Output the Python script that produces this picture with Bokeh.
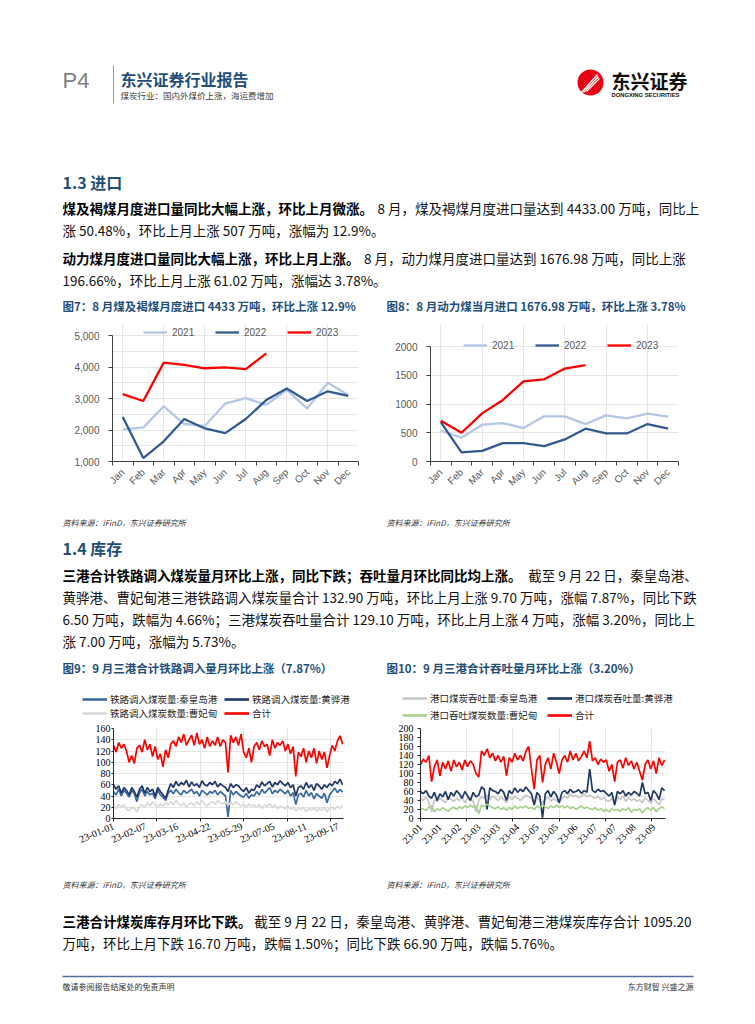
import math
import numpy as np
import pandas as pd
from bokeh.plotting import figure
from bokeh.models import (Range1d, FixedTicker, LinearAxis, Legend, LegendItem,
                          NumeralTickFormatter)
from bokeh.layouts import column, row
from bokeh.embed import file_html
from bokeh.resources import INLINE
from bokeh.core.properties import value

CJK = "Noto Sans CJK SC"

# ---------------- data ----------------
MONTHS = ["Jan", "Feb", "Mar", "Apr", "May", "Jun", "Jul", "Aug", "Sep", "Oct", "Nov", "Dec"]
IMP_2021 = [2010, 2080, 2750, 2190, 2130, 2840, 3010, 2800, 3270, 2680, 3500, 3110]
IMP_2022 = [2410, 1110, 1640, 2350, 2050, 1900, 2350, 2950, 3320, 2920, 3230, 3080]
IMP_2023 = [3140, 2920, 4140, 4070, 3960, 3990, 3930, 4433]
TH_2021 = [535, 413, 640, 669, 581, 785, 785, 651, 802, 750, 831, 779]
TH_2022 = [686, 157, 186, 320, 320, 267, 384, 570, 488, 488, 651, 570]
TH_2023 = [709, 500, 837, 1070, 1395, 1430, 1616, 1676.98]

START = "2023-01-01"
STEP_DAYS = 3  # one reading every 3 days, 2023-01-01 .. 2023-09-22

RAIL_QHD = [48, 42, 52, 40, 50, 45, 38, 50, 44, 30, 46, 52, 40, 48, 42, 45, 35, 50, 42, 38, 32, 45,
            50, 44, 52, 46, 42, 50, 45, 48, 52, 44, 48, 40, 50, 46, 42, 48, 45, 50, 42, 48, 44, 40, 3,
            50, 42, 48, 44, 40, 38, 45, 36, 42, 40, 48, 42, 52, 45, 50, 55, 44, 50, 46, 52, 48,
            44, 50, 40, 46, 25, 42, 45, 38, 50, 40, 46, 35, 44, 40, 36, 45, 28, 42, 48, 54, 46, 52, 47]
RAIL_HH = [60, 52, 58, 45, 55, 50, 42, 55, 48, 38, 52, 58, 45, 55, 48, 52, 40, 55, 48, 42, 36, 50,
           62, 55, 66, 58, 64, 60, 68, 56, 65, 58, 62, 55, 67, 60, 58, 64, 60, 66, 56, 62, 58, 55, 48,
           62, 55, 60, 58, 52, 48, 55, 45, 52, 50, 60, 55, 65, 58, 62, 66, 56, 64, 60, 67, 62,
           58, 64, 55, 60, 40, 55, 58, 52, 64, 55, 60, 50, 62, 58, 52, 60, 55, 62, 58, 66, 62, 70, 60]
RAIL_CFD = [22, 18, 25, 20, 24, 16, 14, 20, 18, 12, 22, 25, 20, 28, 22, 30, 24, 20, 26, 22, 28, 24,
            30, 24, 32, 26, 22, 28, 20, 25, 28, 22, 30, 25, 32, 26, 22, 28, 30, 25, 32, 28, 26, 30, 24,
            28, 24, 30, 26, 22, 25, 20, 26, 22, 24, 20, 25, 18, 24, 22, 26, 20, 24, 18, 22, 20,
            18, 22, 16, 20, 14, 18, 16, 20, 12, 18, 15, 20, 13, 18, 14, 20, 12, 18, 20, 16, 22, 18, 24]
RAIL_SUM = [130, 118, 135, 125, 132, 120, 100, 112, 98, 125, 130, 118, 140, 122, 132, 110, 128, 105,
            115, 92, 122, 108, 132, 138, 128, 145, 135, 150, 130, 140, 148, 130, 152, 132, 140, 125,
            145, 128, 138, 130, 145, 128, 140, 135, 82, 148, 135, 145, 130, 150, 118, 108, 125, 100,
            128, 135, 122, 138, 128, 132, 112, 140, 125, 135, 130, 138, 120, 132, 115, 128, 75, 118,
            110, 125, 100, 120, 108, 125, 98, 120, 105, 118, 90, 112, 130, 120, 138, 147, 132]

PORT_QHD = [45, 40, 48, 35, 15, 42, 38, 45, 40, 35, 48, 42, 38, 45, 40, 48, 35, 45, 42, 38, 15, 40,
            48, 45, 52, 42, 50, 45, 40, 48, 42, 35, 48, 42, 50, 45, 40, 46, 52, 48, 45, 32, 48, 40, 35,
            42, 48, 38, 45, 40, 35, 45, 50, 45, 55, 48, 52, 46, 50, 55, 48, 52, 48, 45, 50, 42, 46,
            40, 38, 45, 32, 48, 42, 50, 38, 46, 40, 44, 38, 42, 35, 46, 40, 35, 45, 38, 30, 44, 42]
PORT_HH = [60, 55, 62, 50, 45, 58, 40, 55, 48, 60, 42, 58, 50, 62, 55, 45, 60, 50, 40, 58, 48, 52,
           70, 65, 20, 68, 62, 60, 55, 65, 58, 40, 62, 55, 68, 58, 65, 60, 70, 62, 55, 30, 58, 50, 2,
           55, 62, 48, 60, 52, 35, 58, 62, 55, 65, 58, 60, 64, 56, 62, 58, 110, 62, 58, 65, 60, 62,
           56, 50, 58, 30, 60, 55, 62, 50, 58, 52, 60, 56, 50, 80, 55, 58, 40, 62, 55, 42, 68, 62]
PORT_CFD = [20, 22, 18, 25, 28, 15, 22, 18, 24, 20, 16, 22, 25, 20, 26, 22, 28, 24, 30, 25, 28, 10,
            30, 26, 32, 28, 24, 22, 26, 20, 24, 18, 25, 20, 28, 22, 26, 24, 28, 22, 25, 20, 28, 24, 30,
            26, 22, 28, 24, 30, 25, 28, 24, 28, 22, 26, 20, 24, 28, 22, 25, 22, 20, 24, 18, 22, 16,
            20, 15, 22, 18, 20, 16, 22, 18, 24, 14, 20, 18, 22, 12, 20, 24, 18, 25, 15, 22, 26, 22]
PORT_SUM = [120, 132, 125, 140, 82, 115, 130, 95, 125, 110, 128, 105, 130, 115, 125, 108, 130, 115,
            128, 120, 100, 92, 150, 140, 155, 135, 145, 128, 140, 125, 138, 95, 135, 125, 145, 130,
            140, 128, 150, 160, 110, 65, 130, 140, 80, 120, 135, 110, 145, 125, 100, 130, 140, 125,
            150, 130, 145, 128, 138, 150, 135, 172, 128, 135, 120, 132, 125, 130, 105, 120, 82, 125,
            130, 112, 135, 118, 128, 110, 125, 105, 85, 120, 130, 110, 128, 100, 135, 118, 130]

# ---------------- text (page copy) ----------------
P1 = [("煤及褐煤月度进口量同比大幅上涨，环比上月微涨。", "8 月，煤及褐煤月度进口量达到 4433.00 万吨，同比上"),
      ("", "涨 50.48%，环比上月上涨 507 万吨，涨幅为 12.9%。")]
P2 = [("动力煤月度进口量同比大幅上涨，环比上月上涨。", "8 月，动力煤月度进口量达到 1676.98 万吨，同比上涨"),
      ("", "196.66%，环比上月上涨 61.02 万吨，涨幅达 3.78%。")]
P3 = [("三港合计铁路调入煤炭量月环比上涨，同比下跌；吞吐量月环比同比均上涨。", "截至 9 月 22 日，秦皇岛港、"),
      ("", "黄骅港、曹妃甸港三港铁路调入煤炭量合计 132.90 万吨，环比上月上涨 9.70 万吨，涨幅 7.87%，同比下跌"),
      ("", "6.50 万吨，跌幅为 4.66%；三港煤炭吞吐量合计 129.10 万吨，环比上月上涨 4 万吨，涨幅 3.20%，同比上"),
      ("", "涨 7.00 万吨，涨幅为 5.73%。")]
P4 = [("三港合计煤炭库存月环比下跌。", "截至 9 月 22 日，秦皇岛港、黄骅港、曹妃甸港三港煤炭库存合计 1095.20"),
      ("", "万吨，环比上月下跌 16.70 万吨，跌幅 1.50%；同比下跌 66.90 万吨，跌幅 5.76%。")]
SRC = "资料来源：iFinD，东兴证券研究所"
BLUE_T = "#1F4E79"

W = 755


def bare_fig(width, height, xr, yr):
    p = figure(width=width, height=height, x_range=xr, y_range=yr, title=None,
               output_backend="svg", toolbar_location=None, min_border=0,
               x_axis_location=None, y_axis_location=None)
    p.outline_line_color = None
    p.grid.visible = False
    return p


def text_fig(top, height):
    return bare_fig(W, height, Range1d(0, W), Range1d(top + height, top))


def put(p, x, y, s, size, color="#000000", style="normal", font=CJK, align="left"):
    p.text(x=[x], y=[y], text=[s], text_font=value(font), text_font_size=f"{size}px",
           text_color=color, text_font_style=style, text_baseline="middle", text_align=align)


def para(p, lines, y0, x0=62, size=13.5, pitch=22):
    for i, (b, r) in enumerate(lines):
        y = y0 + i * pitch
        if b:
            put(p, x0, y, b, size, "#000000", "bold")
        put(p, x0 + len(b) * 13.7, y, r, size, "#111111")


# ---- segment A: header + section 1.3 ----
sa = text_fig(0, 312)
put(sa, 62, 80, "P4", 22, "#808080", font="Liberation Sans")
sa.line(x=[113, 113], y=[65, 103], line_color="#9a9a9a", line_width=1)
put(sa, 120, 78, "东兴证券行业报告", 16, BLUE_T, "bold")
put(sa, 120, 94, "煤炭行业：国内外煤价上涨，海运费增加", 8.5, "#404040")
sa.circle(x=[590], y=[82], radius=13, fill_color="#E60012", line_color=None)
for k in range(3):
    sa.line(x=[580 + 3 * k, 597 + 1 * k], y=[93 - k, 74 + 2 * k], line_color="white", line_width=1.3)
put(sa, 611, 80, "东兴证券", 19, "#111111", "bold")
put(sa, 611, 94, "DONGXING SECURITIES", 5.8, "#111111", "bold", font="Liberation Sans")
put(sa, 62, 181, "1.3 进口", 16, BLUE_T, "bold")
para(sa, P1, 207)
para(sa, P2, 257)
put(sa, 62, 305, "图7：8 月煤及褐煤月度进口 4433 万吨，环比上涨 12.9%", 11.5, BLUE_T, "bold")
put(sa, 386, 305, "图8：8 月动力煤当月进口 1676.98 万吨，环比上涨 3.78%", 11.5, BLUE_T, "bold")

# ---- segment B ----
sb = text_fig(505, 175)
put(sb, 62, 522, SRC, 8, "#333333", "italic")
put(sb, 386, 522, SRC, 8, "#333333", "italic")
put(sb, 62, 547, "1.4 库存", 16, BLUE_T, "bold")
para(sb, P3, 574)
put(sb, 62, 667, "图9：9 月三港合计铁路调入量月环比上涨（7.87%）", 11.5, BLUE_T, "bold")
put(sb, 386, 667, "图10：9 月三港合计吞吐量月环比上涨（3.20%）", 11.5, BLUE_T, "bold")

# ---- segment C ----
sc = text_fig(872, 152)
put(sc, 62, 884, SRC, 8, "#333333", "italic")
put(sc, 386, 884, SRC, 8, "#333333", "italic")
para(sc, P4, 920)
sc.line(x=[62, 693], y=[976, 976], line_color="#4F6E9A", line_width=1.6)
put(sc, 62, 986, "敬请参阅报告结尾处的免责声明", 8, "#333333")
put(sc, 693, 986, "东方财智 兴盛之源", 8, "#333333", align="right")


def style_axis(ax, color, font, size, lcolor):
    ax.axis_line_color = color
    ax.major_tick_line_color = color
    ax.minor_tick_line_color = color
    ax.major_label_text_font = font
    ax.major_label_text_font_size = size
    ax.major_label_text_color = lcolor


# ---------------- monthly charts ----------------
# Both charts of a row share the same top/bottom borders (Bokeh aligns them).
M_TOP, M_BOTTOM, M_H = 12, 44, 193


def month_chart(width, bl, br, axis_gap, ylo, yhi, yticks, fmt, series, leg_xy):
    frame_h = M_H - M_TOP - M_BOTTOM
    # range top is extended so the legend (which sits above the top tick) stays in the frame
    y_end = yhi + axis_gap * (yhi - ylo) / (frame_h - axis_gap)
    p = figure(width=width, height=M_H, x_range=Range1d(-0.5, 11.5), y_range=Range1d(ylo, y_end),
               title=None, output_backend="svg", toolbar_location=None,
               x_axis_location=None, y_axis_location=None,
               min_border_left=bl, min_border_right=br, min_border_top=M_TOP, min_border_bottom=M_BOTTOM)
    p.outline_line_color = None
    xa = LinearAxis(ticker=FixedTicker(ticks=list(range(12)), minor_ticks=[i - 0.5 for i in range(13)]),
                    major_label_overrides={i: m for i, m in enumerate(MONTHS)})
    ya = LinearAxis(ticker=FixedTicker(ticks=yticks, minor_ticks=[]),
                    formatter=NumeralTickFormatter(format=fmt), bounds=(ylo, yhi))
    for ax in (xa, ya):
        style_axis(ax, "#404040", "Liberation Sans", "10px", "#595959")
    xa.major_tick_in = 0
    xa.major_tick_out = 0
    xa.minor_tick_in = 0
    xa.minor_tick_out = 4
    xa.major_label_orientation = math.pi / 4
    xa.major_label_standoff = 5
    ya.major_tick_in = 0
    ya.major_tick_out = 4
    ya.minor_tick_out = 0
    ya.major_label_standoff = 9
    p.add_layout(xa, "below")
    p.add_layout(ya, "left")
    items = []
    for label, vals, color in series:
        r = p.line(x=list(range(len(vals))), y=vals, line_color=color, line_width=2.3)
        items.append(LegendItem(label=label, renderers=[r]))
    leg = Legend(items=items, location=leg_xy, orientation="horizontal", glyph_width=24, glyph_height=12,
                 label_height=12, label_width=24, label_standoff=5, spacing=19, padding=0, margin=0,
                 border_line_color=None, background_fill_alpha=0, label_text_font="Liberation Sans",
                 label_text_font_size="10px", label_text_color="#595959")
    p.add_layout(leg, "center")
    return p


C21, C22, C23 = "#B4C7E7", "#335B8E", "#FF0000"
# frames: y 324-461; chart 7 axis top at 335 (x 112-358), chart 8 axis top at 346 (x 430-678)
p7 = month_chart(378, 112, 20, 11, 1000, 5000, [1000, 2000, 3000, 4000, 5000], "0,0",
                 [("2021", IMP_2021, C21), ("2022", IMP_2022, C22), ("2023", IMP_2023, C23)], (31, 123))
p8 = month_chart(377, 52, 77, 22, 0, 2000, [0, 500, 1000, 1500, 2000], "0",
                 [("2021", TH_2021, C21), ("2022", TH_2022, C22), ("2023", TH_2023, C23)], (33, 110))


# ---------------- daily charts ----------------
def legend_fig(width, series, leg_xy, row_gap):
    p = bare_fig(width, 42, Range1d(0, 1), Range1d(0, 1))
    items = []
    for label, vals, color in series:
        # legend swatch only: one empty (NaN) point, nothing is drawn in the plot area
        r = p.line(x=np.array([0.0]), y=np.array([np.nan]), line_color=color, line_width=2.6)
        items.append(LegendItem(label=label, renderers=[r]))
    leg = Legend(items=items, location=leg_xy, orientation="horizontal", ncols=2, glyph_width=25,
                 glyph_height=14, label_height=14, label_width=114, label_standoff=3, spacing=row_gap,
                 padding=0, margin=0, border_line_color=None, background_fill_alpha=0,
                 label_text_font=CJK, label_text_font_size="9.5px", label_text_color="#262626")
    p.add_layout(leg, "center")
    return p


D_TOP, D_BOTTOM, D_H = 6, 54, 150


def daily_chart(width, bl, br, ymax, label_every, label_fmt, angle, series, tick_out, standoff):
    n = len(series[0][1])
    days = list(range(0, n * STEP_DAYS, STEP_DAYS))
    start = pd.Timestamp(START)
    p = figure(width=width, height=D_H, x_range=Range1d(0, 265), y_range=Range1d(0, ymax), title=None,
               output_backend="svg", toolbar_location=None, x_axis_location=None, y_axis_location=None,
               min_border_left=bl, min_border_right=br, min_border_top=D_TOP, min_border_bottom=D_BOTTOM)
    p.outline_line_color = None
    lab_days = list(range(0, 265, label_every))
    xa = LinearAxis(ticker=FixedTicker(ticks=lab_days, minor_ticks=list(range(0, 265, 50))),
                    major_label_overrides={d: (start + pd.Timedelta(days=d)).strftime(label_fmt)
                                           for d in lab_days})
    ya = LinearAxis(ticker=FixedTicker(ticks=list(range(0, ymax + 1, 20)), minor_ticks=[]))
    for ax in (xa, ya):
        style_axis(ax, "#262626", "Liberation Serif", "10px", "#000000")
    xa.major_tick_in = 0
    xa.major_tick_out = 0
    xa.minor_tick_in = 0
    xa.minor_tick_out = 3
    xa.major_label_orientation = angle
    xa.major_label_standoff = 4
    ya.major_tick_in = 0
    ya.major_tick_out = tick_out
    ya.minor_tick_out = 0
    ya.major_label_standoff = standoff
    p.add_layout(xa, "below")
    p.add_layout(ya, "left")
    for label, vals, color in series:
        p.line(x=days, y=vals, line_color=color, line_width=1.7)
    return p


S9 = [("铁路调入煤炭量:秦皇岛港", RAIL_QHD, "#3D6A9E"),
      ("铁路调入煤炭量:黄骅港", RAIL_HH, "#1F3864"),
      ("铁路调入煤炭数量:曹妃甸", RAIL_CFD, "#D9D9D9"),
      ("合计", RAIL_SUM, "#FF0000")]
S10 = [("港口煤炭吞吐量:秦皇岛港", PORT_QHD, "#C8C8C8"),
       ("港口煤炭吞吐量:黄骅港", PORT_HH, "#1F3864"),
       ("港口吞吐煤炭数量:曹妃甸", PORT_CFD, "#A9D18E"),
       ("合计", PORT_SUM, "#FF0000")]

# chart 9: frame x 113-343, y 728-818 ; chart 10: frame x 420-665, y 728-818
l9 = legend_fig(378, S9, (82, 2), 0)
l10 = legend_fig(377, S10, (24, 0), 3)
p9 = daily_chart(378, 113, 35, 160, 37, "%y-%m-%d", 0.4, S9, 2, 1)
p10 = daily_chart(377, 42, 90, 200, 21, "%y-%m", math.pi / 4, S10, 3, 4)

page = column(sa, row(p7, p8), sb, row(l9, l10), row(p9, p10), sc)
open("out.html", "w").write(file_html(page, INLINE))
